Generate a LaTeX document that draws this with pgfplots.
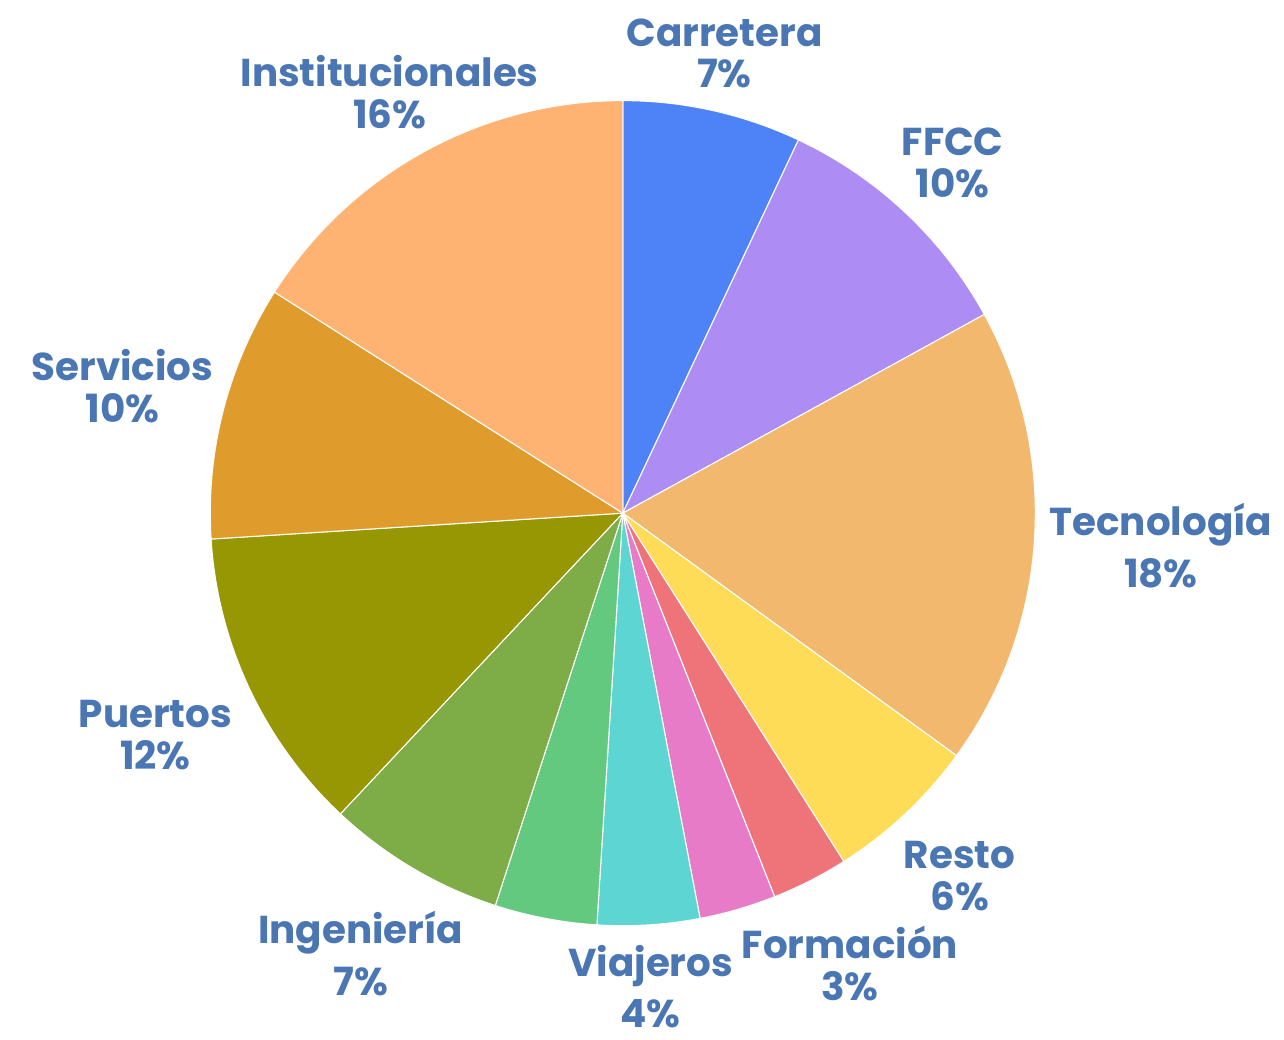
\documentclass[border=0pt]{standalone}
\usepackage{pgfplots}
\pgfplotsset{compat=1.18}
\usepackage{pgfplotstable}
\usepackage{fontspec}
\setmainfont{Poppins}
\definecolor{cCarretera}{HTML}{4E82F7}
\definecolor{cFFCC}{HTML}{AD8DF4}
\definecolor{cTecnologia}{HTML}{F2B86E}
\definecolor{cResto}{HTML}{FEDC57}
\definecolor{cFormacion}{HTML}{EE747A}
\definecolor{cPink}{HTML}{E77BC8}
\definecolor{cViajeros}{HTML}{5DD5D3}
\definecolor{cLGreen}{HTML}{63C97F}
\definecolor{cIngenieria}{HTML}{7EAC47}
\definecolor{cPuertos}{HTML}{979603}
\definecolor{cServicios}{HTML}{DF9C2D}
\definecolor{cInstitucionales}{HTML}{FEB373}
\definecolor{labcol}{HTML}{4A76B4}
\tikzset{lab/.style={text=labcol, align=center, anchor=base,
    font={\fontsize{11.1pt}{0pt}\selectfont\bfseries\lineskip=3.6pt\lineskiplimit=0pt}}}
\pgfplotstableread[col sep=comma]{
value,color
7,cCarretera
10,cFFCC
18,cTecnologia
6,cResto
3,cFormacion
3,cPink
4,cViajeros
4,cLGreen
7,cIngenieria
12,cPuertos
10,cServicios
16,cInstitucionales
}\piedata
\begin{document}
\begin{tikzpicture}
\pgfplotstablegetrowsof{\piedata}
\pgfmathtruncatemacro\N{\pgfplotsretval-1}
\begin{axis}[
  scale only axis, width=12.84cm, height=10.36cm,
  xmin=0, xmax=1284, ymin=0, ymax=1036,
  hide axis, clip=false,
]
\path (axis cs:0,0) rectangle (axis cs:1284,1036);
\def\cum{0}
\pgfplotsforeachungrouped \i in {0,...,\N}{%
  \pgfplotstablegetelem{\i}{value}\of\piedata \let\v\pgfplotsretval
  \pgfplotstablegetelem{\i}{color}\of\piedata \let\c\pgfplotsretval
  \pgfmathsetmacro\a{90-3.6*\cum}%
  \pgfmathsetmacro\b{90-3.6*(\cum+\v)}%
  \pgfmathsetmacro\cum{\cum+\v}%
  \edef\temp{\noexpand\fill[\c, draw=white, line width=0.3pt] (axis cs:625,521) -- ++(\a:41.4mm) arc[start angle=\a, end angle=\b, radius=41.4mm] -- cycle;}%
  \temp
}
\node[lab] at (axis cs:727,948) {Carretera\\7\%};
\node[lab] at (axis cs:956,838) {FFCC\\10\%};
\node[lab] at (axis cs:1165,446) {Tecnología\\18\%};
\node[lab] at (axis cs:963,122) {Resto\\6\%};
\node[lab] at (axis cs:853,32) {Formación\\3\%};
\node[lab] at (axis cs:653,5) {Viajeros\\4\%};
\node[lab] at (axis cs:362,37) {Ingeniería\\7\%};
\node[lab] at (axis cs:156,264) {Puertos\\12\%};
\node[lab] at (axis cs:123,612) {Servicios\\10\%};
\node[lab] at (axis cs:391,907) {Institucionales\\16\%};
\end{axis}
\end{tikzpicture}
\end{document}
